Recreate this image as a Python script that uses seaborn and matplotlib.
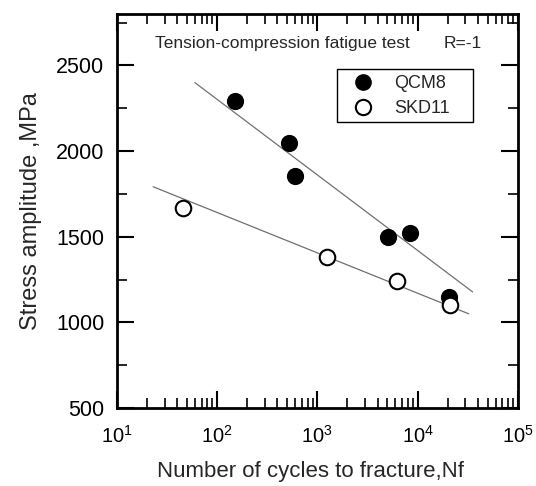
import numpy as np
import pandas as pd
import matplotlib
matplotlib.use("Agg")
import matplotlib.pyplot as plt
from matplotlib.lines import Line2D
from matplotlib.patches import Rectangle
import seaborn as sns

# ---- data ----
qcm8_cycles = [150, 520, 600, 5100, 8400, 20400]
qcm8_stress = [2290, 2045, 1855, 1500, 1520, 1148]
skd11_cycles = [46, 1240, 6300, 21000]
skd11_stress = [1668, 1383, 1243, 1102]

# fitted lines drawn between N limits
qcm8_fit_range = [60, 35400]
qcm8_fit_stress = [2400, 1178]
skd11_fit_range = [23, 32400]
skd11_fit_stress = [1792, 1050]

x_ticks = [10, 100, 1000, 10000, 100000]
y_ticks = [500, 1000, 1500, 2000, 2500]

sns.set_theme(style="ticks")
plt.rcParams['font.family'] = ['Liberation Sans', 'DejaVu Sans']
plt.rcParams['mathtext.fontset'] = 'custom'
plt.rcParams['mathtext.rm'] = 'Liberation Sans'

fig = plt.figure(figsize=(5.36, 4.86), dpi=100)
ax = fig.add_axes([0.218, 0.1605, 0.748, 0.8105])

pts = pd.concat([
    pd.DataFrame({"N": qcm8_cycles, "S": qcm8_stress, "mat": "QCM8"}),
    pd.DataFrame({"N": skd11_cycles, "S": skd11_stress, "mat": "SKD11"}),
])
lines = pd.concat([
    pd.DataFrame({"N": qcm8_fit_range, "S": qcm8_fit_stress, "mat": "QCM8"}),
    pd.DataFrame({"N": skd11_fit_range, "S": skd11_fit_stress, "mat": "SKD11"}),
])

sns.lineplot(data=lines, x="N", y="S", units="mat", estimator=None,
             color="#707070", lw=0.9, ax=ax, legend=False)
sns.scatterplot(data=pts[pts.mat == "QCM8"], x="N", y="S", ax=ax,
                s=125, color="black", edgecolor="black", linewidth=1.2,
                legend=False, zorder=3)
sns.scatterplot(data=pts[pts.mat == "SKD11"], x="N", y="S", ax=ax,
                s=125, facecolor="white", edgecolor="black", linewidth=1.5,
                legend=False, zorder=3)

ax.set_xscale("log")
ax.set_xlim(10, 100000)
ax.set_ylim(500, 2800)
ax.set_xticks(x_ticks)
ax.set_yticks(y_ticks)
ax.yaxis.set_minor_locator(matplotlib.ticker.MultipleLocator(250))
ax.xaxis.set_minor_locator(matplotlib.ticker.LogLocator(base=10, subs=np.arange(2, 10)))
ax.xaxis.set_minor_formatter(matplotlib.ticker.NullFormatter())

ax.tick_params(which="both", direction="in", top=True, right=True,
               colors="black")
ax.tick_params(which="major", length=12, width=1.5)
ax.tick_params(which="minor", length=7, width=1.2)
ax.tick_params(axis="y", which="major", labelsize=15.5, pad=9)
ax.tick_params(axis="x", which="major", labelsize=14.5, pad=12)
for sp in ax.spines.values():
    sp.set_linewidth(2)
    sp.set_color("black")

ax.set_xlabel("Number of cycles to fracture,Nf", fontsize=16)
ax.xaxis.set_label_coords(0.482, -0.135)
ax.set_ylabel("Stress amplitude ,MPa", fontsize=17, labelpad=10)

ax.text(0.095, 0.925, "Tension-compression fatigue test", transform=ax.transAxes,
        fontsize=12.5, va="center", ha="left")
ax.text(0.815, 0.925, "R=-1", transform=ax.transAxes,
        fontsize=12.5, va="center", ha="left")

# legend box
ax.add_patch(Rectangle((0.549, 0.726), 0.339, 0.1345, transform=ax.transAxes,
                       facecolor="white", edgecolor="black", lw=1.0, zorder=4))
handles = [
    Line2D([], [], ls="", marker="o", ms=11, mfc="black", mec="black"),
    Line2D([], [], ls="", marker="o", ms=11, mfc="white", mec="black", mew=1.5),
]
leg = ax.legend(handles, ["QCM8", "SKD11"], loc="center left",
                bbox_to_anchor=(0.591, 0.792), fontsize=13, frameon=False,
                handlelength=1.0, handletextpad=1.22, borderpad=0,
                labelspacing=0.45, borderaxespad=0)
leg.set_zorder(5)

fig.savefig("out.png", dpi=100)
